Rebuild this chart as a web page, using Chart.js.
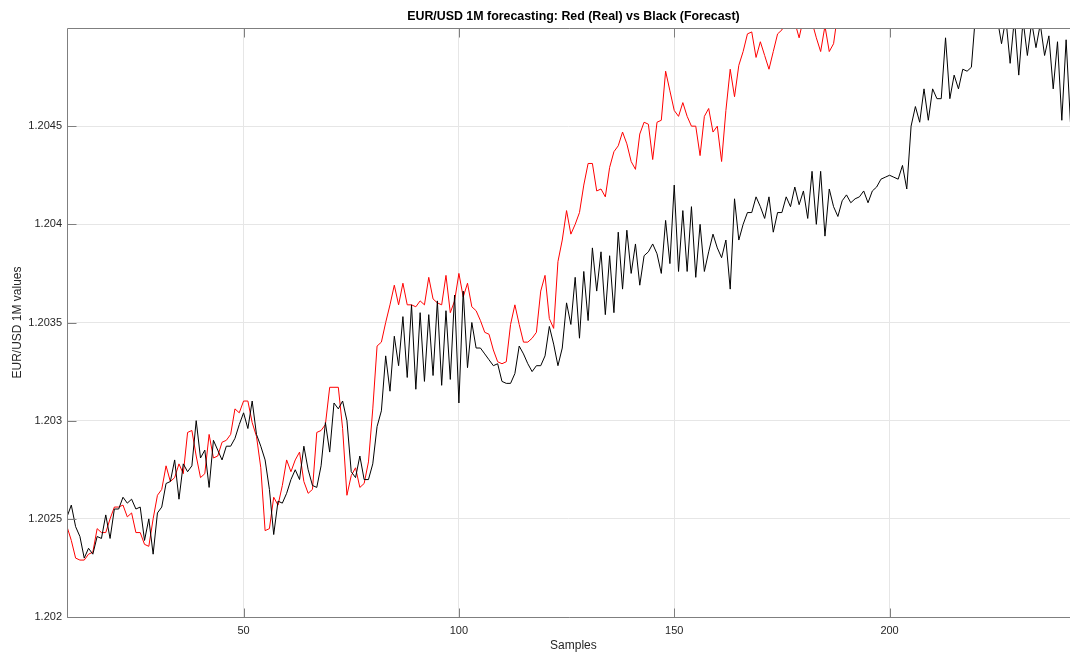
<!DOCTYPE html>
<html><head><meta charset="utf-8">
<script src="https://cdn.jsdelivr.net/npm/chart.js@4.4.1/dist/chart.umd.min.js"></script>
<style>html,body{margin:0;padding:0;background:#fff;overflow:hidden}canvas{display:block}</style>
</head><body>
<canvas id="c" width="1070" height="655"></canvas>
<script>
const chartTitle = 'EUR/USD 1M forecasting: Red (Real) vs Black (Forecast)';
const xAxisTitle = 'Samples';
const yAxisTitle = 'EUR/USD 1M values';
const firstSample = 9;
const xTickValues = [50, 100, 150, 200];
const yTickValues = [1.202, 1.2025, 1.203, 1.2035, 1.204, 1.2045];
const yTickLabels = ['1.202', '1.2025', '1.203', '1.2035', '1.204', '1.2045'];
const xLimits = [9, 241.9];
const fullAxesXMax = 244.2;
const yLimits = [1.202, 1.205];

const realValues = [
 1.20246, 1.20239, 1.20230, 1.20229, 1.20229, 1.20232, 1.20233, 1.20245, 1.20243, 1.20243,
 1.20250, 1.20256, 1.20256, 1.20257, 1.20251, 1.20253, 1.20243, 1.20243, 1.20237, 1.20236,
 1.20250, 1.20262, 1.20265, 1.20277, 1.20269, 1.20271, 1.20278, 1.20273, 1.20294, 1.20295,
 1.20282, 1.20271, 1.20273, 1.20293, 1.20281, 1.20282, 1.20289, 1.20290, 1.20293, 1.20306,
 1.20304, 1.20310, 1.20310, 1.20299, 1.20292, 1.20276, 1.20244, 1.20245, 1.20261, 1.20257,
 1.20267, 1.20280, 1.20274, 1.20280, 1.20284, 1.20269, 1.20263, 1.20265, 1.20294, 1.20295,
 1.20298, 1.20317, 1.20317, 1.20317, 1.20296, 1.20262, 1.20272, 1.20276, 1.20266, 1.20268,
 1.20279, 1.20306, 1.20338, 1.20340, 1.20350, 1.20359, 1.20369, 1.20359, 1.20370, 1.20359,
 1.20359, 1.20358, 1.20361, 1.20359, 1.20373, 1.20362, 1.20360, 1.20359, 1.20374, 1.20355,
 1.20361, 1.20375, 1.20363, 1.20370, 1.20358, 1.20356, 1.20351, 1.20345, 1.20344, 1.20336,
 1.20330, 1.20329, 1.20330, 1.20349, 1.20359, 1.20349, 1.20340, 1.20340, 1.20342, 1.20345,
 1.20366, 1.20374, 1.20352, 1.20347, 1.20381, 1.20392, 1.20407, 1.20395, 1.20400, 1.20406,
 1.20420, 1.20431, 1.20431, 1.20417, 1.20418, 1.20414, 1.20429, 1.20437, 1.20440, 1.20447,
 1.20441, 1.20432, 1.20428, 1.20446, 1.20452, 1.20451, 1.20433, 1.20452, 1.20453, 1.20478,
 1.20468, 1.20458, 1.20455, 1.20462, 1.20455, 1.20450, 1.20450, 1.20435, 1.20455, 1.20459,
 1.20447, 1.20450, 1.20432, 1.20458, 1.20479, 1.20465, 1.20481, 1.20488, 1.20497, 1.20498,
 1.20485, 1.20493, 1.20486, 1.20479, 1.20488, 1.20497, 1.20499, 1.20505, 1.20504, 1.20503,
 1.20495, 1.20505, 1.20506, 1.20503, 1.20495, 1.20488, 1.20501, 1.20488, 1.20492, 1.20508,
 1.20513
];

const forecastValues = [
 1.20251, 1.20257, 1.20246, 1.20241, 1.20230, 1.20235, 1.20232, 1.20241, 1.20240, 1.20252,
 1.20240, 1.20255, 1.20255, 1.20261, 1.20258, 1.20260, 1.20255, 1.20256, 1.20239, 1.20250,
 1.20232, 1.20253, 1.20256, 1.20268, 1.20269, 1.20280, 1.20260, 1.20278, 1.20274, 1.20277,
 1.20300, 1.20281, 1.20285, 1.20266, 1.20290, 1.20285, 1.20280, 1.20287, 1.20287, 1.20291,
 1.20298, 1.20304, 1.20296, 1.20310, 1.20293, 1.20287, 1.20280, 1.20265, 1.20242, 1.20259,
 1.20258, 1.20263, 1.20270, 1.20275, 1.20270, 1.20287, 1.20275, 1.20267, 1.20266, 1.20277,
 1.20299, 1.20284, 1.20309, 1.20306, 1.20310, 1.20300, 1.20274, 1.20271, 1.20282, 1.20270,
 1.20270, 1.20278, 1.20297, 1.20305, 1.20333, 1.20315, 1.20343, 1.20328, 1.20353, 1.20322,
 1.20359, 1.20316, 1.20355, 1.20320, 1.20354, 1.20323, 1.20361, 1.20318, 1.20356, 1.20321,
 1.20364, 1.20309, 1.20366, 1.20327, 1.20350, 1.20337, 1.20337, 1.20334, 1.20331, 1.20328,
 1.20329, 1.20320, 1.20319, 1.20319, 1.20324, 1.20338, 1.20334, 1.20329, 1.20325, 1.20328,
 1.20328, 1.20333, 1.20348, 1.20339, 1.20328, 1.20337, 1.20360, 1.20349, 1.20373, 1.20342,
 1.20376, 1.20351, 1.20388, 1.20366, 1.20386, 1.20354, 1.20384, 1.20355, 1.20396, 1.20367,
 1.20397, 1.20375, 1.20390, 1.20369, 1.20384, 1.20386, 1.20390, 1.20385, 1.20375, 1.20402,
 1.20380, 1.20420, 1.20376, 1.20407, 1.20376, 1.20409, 1.20373, 1.20400, 1.20376, 1.20386,
 1.20395, 1.20388, 1.20383, 1.20392, 1.20367, 1.20413, 1.20392, 1.20400, 1.20406, 1.20406,
 1.20414, 1.20409, 1.20403, 1.20414, 1.20396, 1.20406, 1.20406, 1.20414, 1.20409, 1.20419,
 1.20410, 1.20417, 1.20403, 1.20427, 1.20400, 1.20427, 1.20394, 1.20418, 1.20409, 1.20404,
 1.20412, 1.20415, 1.20411, 1.20413, 1.20414, 1.20417, 1.20411, 1.20417, 1.20419, 1.20423,
 1.20424, 1.20425, 1.20424, 1.20423, 1.20430, 1.20418, 1.20450, 1.20460, 1.20452, 1.20469,
 1.20453, 1.20469, 1.20464, 1.20464, 1.20495, 1.20464, 1.20476, 1.20469, 1.20479, 1.20478,
 1.20480, 1.20508, 1.20510, 1.20512, 1.20508, 1.20510, 1.20505, 1.20492, 1.20505, 1.20482,
 1.20505, 1.20476, 1.20504, 1.20486, 1.20503, 1.20490, 1.20502, 1.20486, 1.20496, 1.20469,
 1.20493, 1.20453, 1.20494, 1.20452
];

const FONT = '"Liberation Sans", Arial, Helvetica, sans-serif';
const AXIS_COLOR = '#7f7f7f';
const GRID_COLOR = '#e6e6e6';
const TEXT_COLOR = '#262626';

const axesFrame = {
  id: 'axesFrame',
  afterDatasetsDraw(chart) {
    const {ctx, chartArea: a, scales: {x, y}} = chart;
    ctx.save();
    ctx.strokeStyle = AXIS_COLOR;
    ctx.lineWidth = 1;
    ctx.beginPath();
    const L = a.left + 0.5, T = a.top + 0.5, B = a.bottom + 0.5;
    ctx.moveTo(L, B); ctx.lineTo(L, T); ctx.lineTo(a.right + 2, T);
    ctx.moveTo(L, B); ctx.lineTo(a.right + 2, B);
    const tl = 9;
    xTickValues.forEach(v => {
      const px = Math.round(x.getPixelForValue(v)) + 0.5;
      ctx.moveTo(px, B); ctx.lineTo(px, B - tl);
      ctx.moveTo(px, T); ctx.lineTo(px, T + tl);
    });
    yTickValues.forEach(v => {
      const py = Math.round(y.getPixelForValue(v)) + 0.5;
      ctx.moveTo(L, py); ctx.lineTo(L + tl, py);
    });
    ctx.stroke();
    const cx = (a.left + x.getPixelForValue(fullAxesXMax)) / 2;
    ctx.textAlign = 'center';
    ctx.textBaseline = 'middle';
    ctx.fillStyle = '#000';
    ctx.font = 'bold 12.4px ' + FONT;
    ctx.fillText(chartTitle, cx, 17);
    ctx.fillStyle = TEXT_COLOR;
    ctx.font = '12px ' + FONT;
    ctx.fillText(xAxisTitle, cx, 646);
    ctx.restore();
  }
};

new Chart(document.getElementById('c'), {
  type: 'line',
  data: {
    datasets: [
      {
        label: 'Real',
        data: realValues.map((v, i) => ({x: firstSample + i, y: v})),
        borderColor: '#ff0000',
        borderWidth: 1,
        pointRadius: 0,
        tension: 0,
        fill: false,
        order: 1
      },
      {
        label: 'Forecast',
        data: forecastValues.map((v, i) => ({x: firstSample + i, y: v})),
        borderColor: '#000000',
        borderWidth: 1,
        pointRadius: 0,
        tension: 0,
        fill: false,
        order: 0
      }
    ]
  },
  options: {
    responsive: false,
    animation: false,
    events: [],
    layout: {padding: {top: 28, left: 0, right: 0, bottom: 0}},
    plugins: {legend: {display: false}, tooltip: {enabled: false}, title: {display: false}},
    scales: {
      x: {
        type: 'linear',
        position: 'bottom',
        min: xLimits[0],
        max: xLimits[1],
        afterBuildTicks: s => { s.ticks = xTickValues.map(v => ({value: v})); },
        afterFit: s => { s.height = 38; },
        grid: {color: GRID_COLOR, lineWidth: 1, drawTicks: false},
        border: {display: false},
        ticks: {color: TEXT_COLOR, font: {family: FONT, size: 11}, padding: 7, maxRotation: 0, autoSkip: false}
      },
      y: {
        type: 'linear',
        position: 'left',
        min: yLimits[0],
        max: yLimits[1],
        afterBuildTicks: s => { s.ticks = yTickValues.map(v => ({value: v})); },
        afterFit: s => { s.width = 67; },
        grid: {color: GRID_COLOR, lineWidth: 1, drawTicks: false},
        border: {display: false},
        ticks: {color: TEXT_COLOR, font: {family: FONT, size: 11}, padding: 5, autoSkip: false,
                callback: (v, i) => yTickLabels[i]},
        title: {display: true, text: yAxisTitle, color: TEXT_COLOR, font: {family: FONT, size: 12},
                padding: {top: 10.4, bottom: 0}}
      }
    }
  },
  plugins: [axesFrame]
});
</script>
</body></html>
